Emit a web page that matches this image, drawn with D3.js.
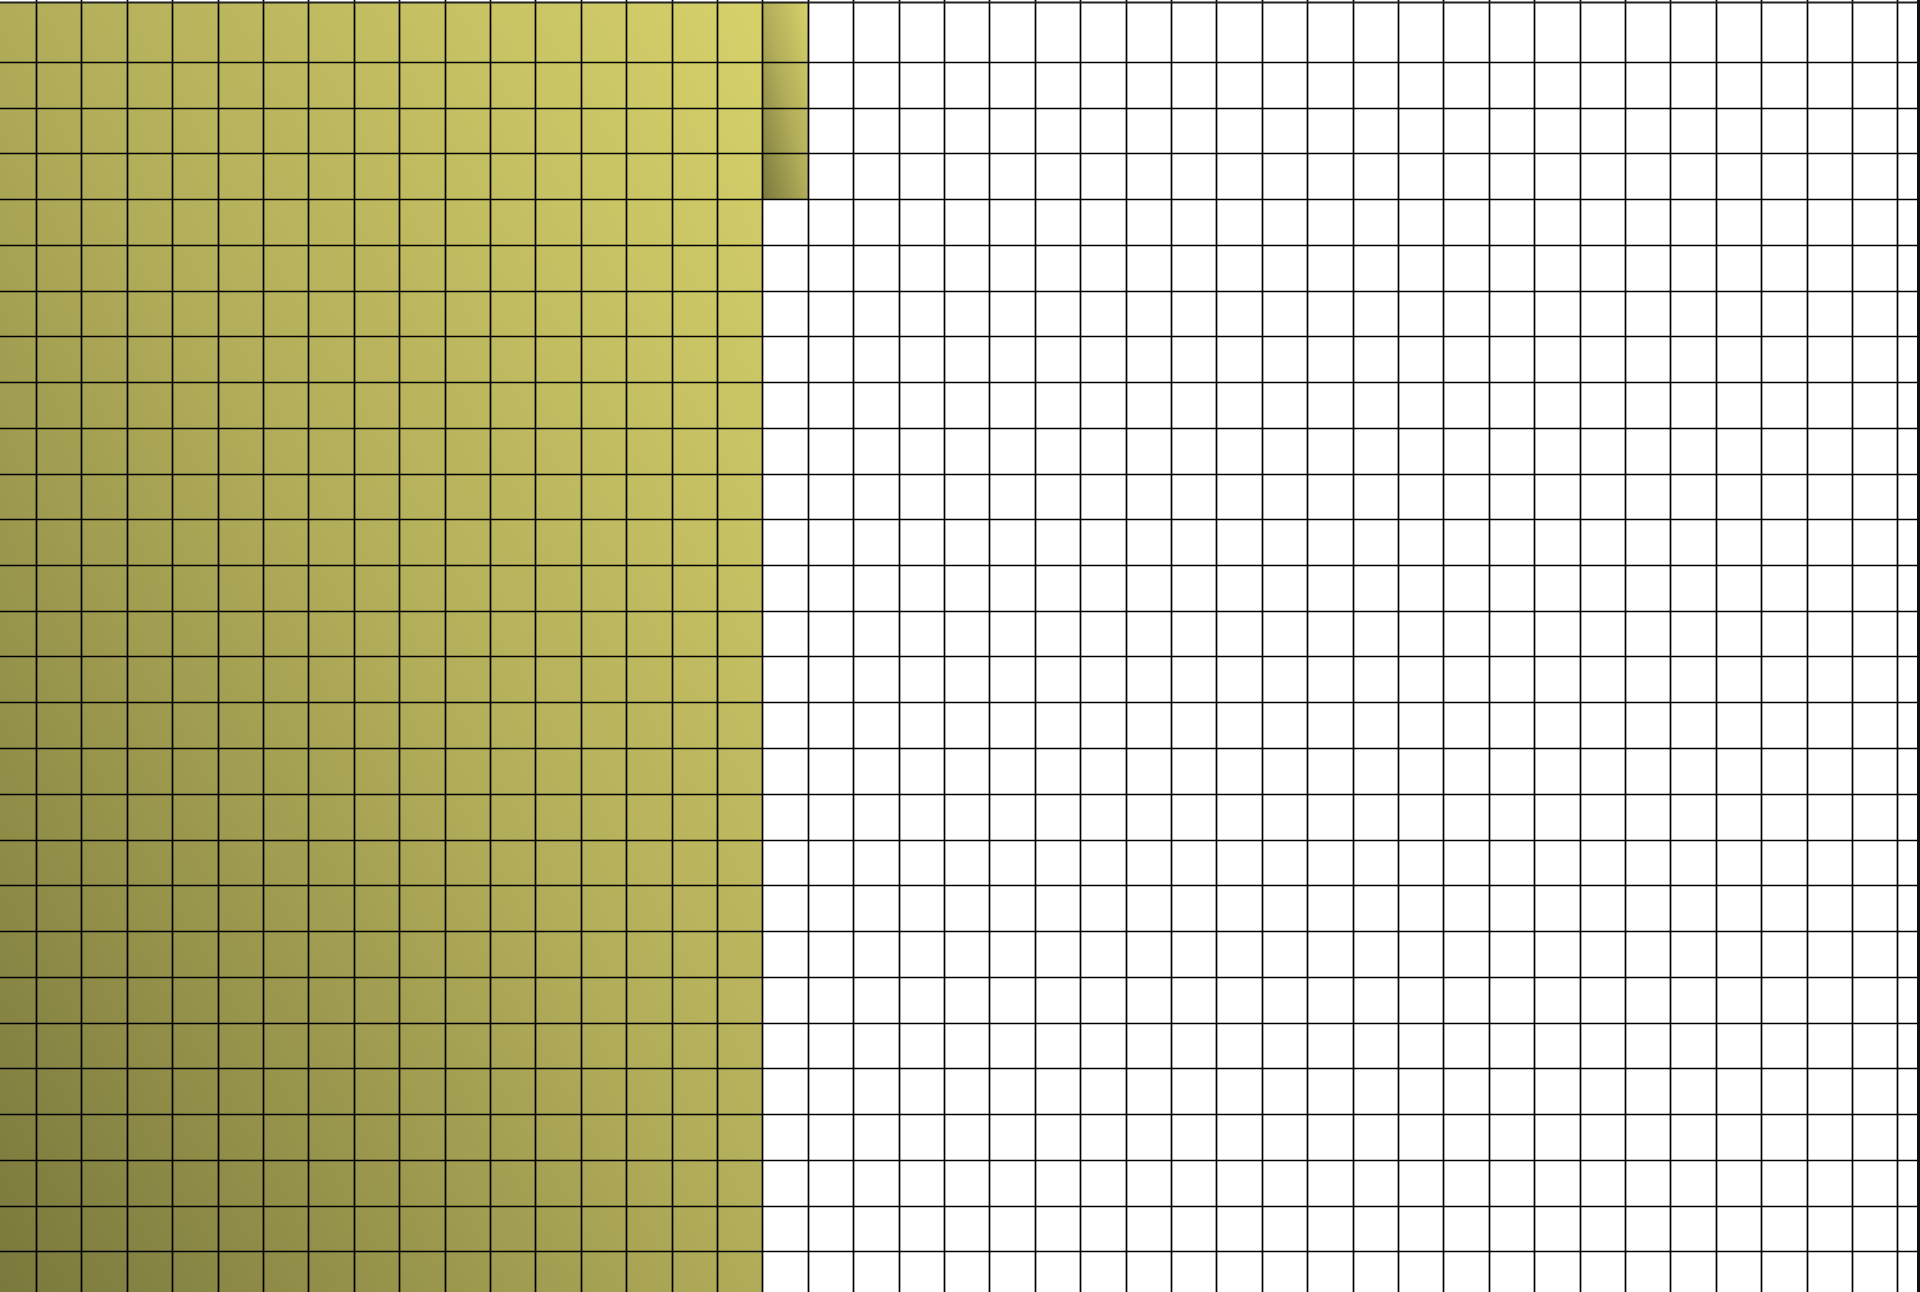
<!DOCTYPE html>
<html>
<head>
<meta charset="utf-8">
<script src="https://cdn.jsdelivr.net/npm/d3@7"></script>
<style>
  html, body { margin: 0; padding: 0; background: #ffffff; }
  svg { display: block; }
</style>
</head>
<body>
<script>
// ---- data ----
// number of columns in the grid (the first one is partly cut off on the left)
const columnIds = d3.range(0, 43);
// number of rows in the grid (the last one is partly cut off at the bottom)
const rowIds = d3.range(0, 29);
// filled cells per column, counted from the top (17 full columns + one column with 4 cells)
const filledColumns = [29, 29, 29, 29, 29, 29, 29, 29, 29, 29, 29, 29, 29, 29, 29, 29, 29, 4];
// gradient colours
const gradientStops = [
  { offset: 0, color: "#7a793d" },
  { offset: 0.5, color: "#b1ac59" },
  { offset: 1, color: "#d6d16a" }
];

// ---- layout ----
const W = 1920, H = 1292;
const plotTop = 3, plotLeft = 0, plotRight = 1918;

const svg = d3.select("body").append("svg")
  .attr("width", W).attr("height", H);

// column edges: column c spans x(c) .. x(c+1)
const x = d3.scaleLinear().domain([1, 42]).range([36, 36 + 45.4 * 41]);
// row edges: row r spans y(r) .. y(r+1), row 0 is the top row
const y = d3.scaleLinear().domain([1, 28]).range([16 + 45.75, 16 + 45.75 * 28]);

const defs = svg.append("defs");
const grad = defs.append("linearGradient")
  .attr("id", "olive")
  .attr("gradientUnits", "objectBoundingBox")
  .attr("x1", 0).attr("y1", 1).attr("x2", 1).attr("y2", 0);
grad.selectAll("stop").data(gradientStops).join("stop")
  .attr("offset", d => d.offset)
  .attr("stop-color", d => d.color);

const clamp = (v, lo, hi) => Math.max(lo, Math.min(hi, v));
const nRows = rowIds.length;

// full columns -> one continuous shape
const fullCols = filledColumns.map((v, i) => ({ v, i })).filter(d => d.v >= nRows);
const partCols = filledColumns.map((v, i) => ({ v, i })).filter(d => d.v < nRows);

const fillG = svg.append("g");
if (fullCols.length) {
  const c0 = d3.min(fullCols, d => d.i), c1 = d3.max(fullCols, d => d.i) + 1;
  const x0 = clamp(x(c0), plotLeft, plotRight), x1 = clamp(x(c1), plotLeft, plotRight);
  fillG.append("rect")
    .attr("x", x0).attr("y", plotTop)
    .attr("width", x1 - x0).attr("height", H - plotTop)
    .attr("fill", "url(#olive)");
}
fillG.selectAll("rect.part").data(partCols).join("rect")
  .attr("class", "part")
  .attr("x", d => clamp(x(d.i), plotLeft, plotRight))
  .attr("y", plotTop)
  .attr("width", d => clamp(x(d.i + 1), plotLeft, plotRight) - clamp(x(d.i), plotLeft, plotRight))
  .attr("height", d => y(d.v) - plotTop)
  .attr("fill", "url(#olive)")
  .attr("stroke", "#5e5c2c")
  .attr("stroke-opacity", 0.35)
  .attr("stroke-width", 1);

// ---- grid ----
const gridG = svg.append("g")
  .attr("stroke", "#000")
  .attr("stroke-width", 1.7);

const vLines = columnIds.filter(c => c >= 1 && x(c) > plotLeft && x(c) < plotRight - 4);
gridG.selectAll("line.v").data(vLines).join("line")
  .attr("class", "v")
  .attr("x1", d => Math.round(x(d)) + 0.5).attr("x2", d => Math.round(x(d)) + 0.5)
  .attr("y1", 0).attr("y2", H);

const hLines = rowIds.filter(r => r >= 1 && y(r) < H);
gridG.selectAll("line.h").data(hLines).join("line")
  .attr("class", "h")
  .attr("x1", plotLeft).attr("x2", plotRight)
  .attr("y1", d => Math.round(y(d)) + 0.5).attr("y2", d => Math.round(y(d)) + 0.5);

// frame: top and right borders
svg.append("line")
  .attr("x1", 0).attr("x2", W).attr("y1", 2.5).attr("y2", 2.5)
  .attr("stroke", "#222").attr("stroke-width", 2);
svg.append("line")
  .attr("x1", 1918.5).attr("x2", 1918.5).attr("y1", 0).attr("y2", H)
  .attr("stroke", "#111").attr("stroke-width", 3);
</script>
</body>
</html>
